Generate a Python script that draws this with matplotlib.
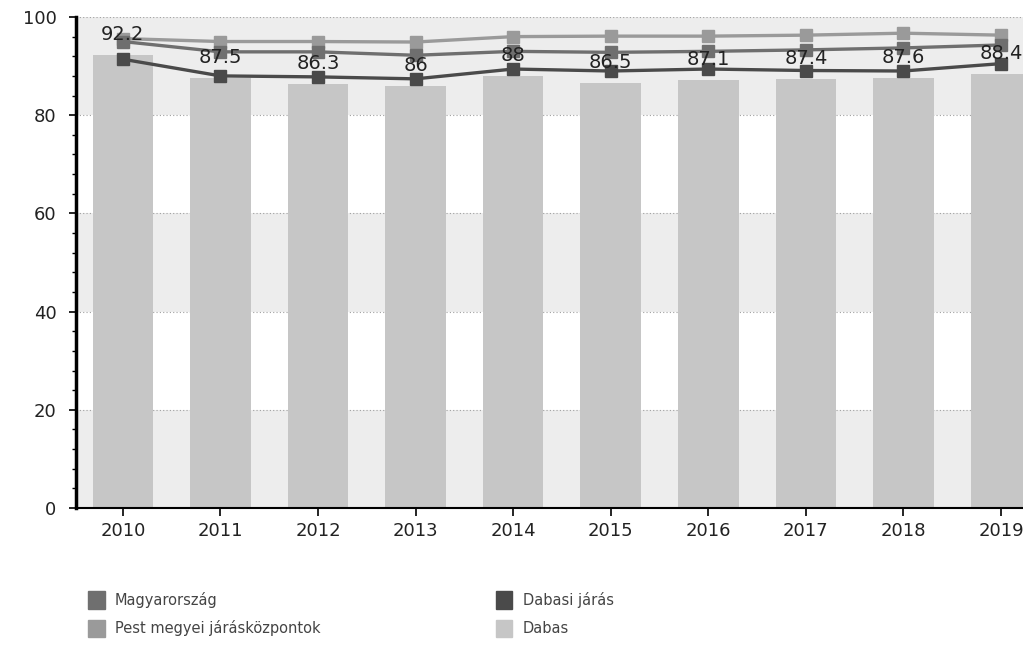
import matplotlib
matplotlib.use("Agg")
import matplotlib.pyplot as plt
from matplotlib.patches import Patch
from matplotlib.ticker import MultipleLocator

years = ['2010', '2011', '2012', '2013', '2014', '2015', '2016', '2017', '2018', '2019']
dabas = [92.2, 87.5, 86.3, 86, 88, 86.5, 87.1, 87.4, 87.6, 88.4]
pest_kozpontok = [95.6, 95.0, 95.0, 94.9, 96.0, 96.1, 96.1, 96.3, 96.7, 96.3]
magyarorszag = [95.0, 92.9, 92.9, 92.2, 93.0, 92.8, 93.0, 93.3, 93.7, 94.3]
dabasi_jaras = [91.4, 88.0, 87.8, 87.4, 89.4, 89.0, 89.4, 89.1, 89.0, 90.5]

c_magyar = '#6f6f6f'
c_pest = '#9a9a9a'
c_jaras = '#4a4a4a'
c_dabas = '#c6c6c6'

fig = plt.figure(figsize=(10.23, 6.53), dpi=100)
ax = fig.add_axes([0.0743, 0.222, 0.93, 0.752])

x = range(len(years))

# alternating background bands
for lo in (0, 40, 80):
    ax.axhspan(lo, lo + 20, color='#ededed', zorder=0, lw=0)
ax.grid(axis='y', color='#a0a0a0', ls=(0, (1, 2)), lw=0.8, zorder=1)

ax.bar(x, dabas, width=0.62, color=c_dabas, zorder=2)

ax.plot(x, pest_kozpontok, color=c_pest, lw=2.4, marker='s', ms=9, zorder=3)
ax.plot(x, magyarorszag, color=c_magyar, lw=2.4, marker='s', ms=9, zorder=3)
ax.plot(x, dabasi_jaras, color=c_jaras, lw=2.4, marker='s', ms=9, zorder=3)

for i, v in enumerate(dabas):
    lab = f"{v:g}"
    ax.annotate(lab, (i, v), xytext=(0, 8), textcoords='offset points',
                ha='center', va='bottom', fontsize=14, color='#222222', zorder=4)

ax.set_xlim(-0.48, 9.27)
ax.set_ylim(0, 100)
ax.set_xticks(list(x))
ax.set_xticklabels(years, fontsize=13, color='#222222')
ax.yaxis.set_major_locator(MultipleLocator(20))
ax.yaxis.set_minor_locator(MultipleLocator(4))
ax.tick_params(axis='y', labelsize=13, labelcolor='#222222', length=5, width=1.2, pad=9)
ax.tick_params(axis='y', which='minor', length=3, width=1)
ax.tick_params(axis='x', length=6, width=1.2, pad=4)

for s in ('top', 'right'):
    ax.spines[s].set_visible(False)
ax.spines['left'].set_linewidth(2.5)
ax.spines['bottom'].set_linewidth(1.5)

handles = [
    Patch(color=c_magyar, label='Magyarország'),
    Patch(color=c_pest, label='Pest megyei járásközpontok'),
    Patch(color=c_jaras, label='Dabasi járás'),
    Patch(color=c_dabas, label='Dabas'),
]
fig.legend(handles=handles, ncol=2, loc='upper left', bbox_to_anchor=(0.086, 0.095),
           frameon=False, fontsize=10.5, labelcolor='#444444', handlelength=1.15,
           handleheight=1.5, handletextpad=0.7, columnspacing=12.0, labelspacing=0.75,
           borderaxespad=0, borderpad=0)

fig.savefig('out.png', dpi=100)
